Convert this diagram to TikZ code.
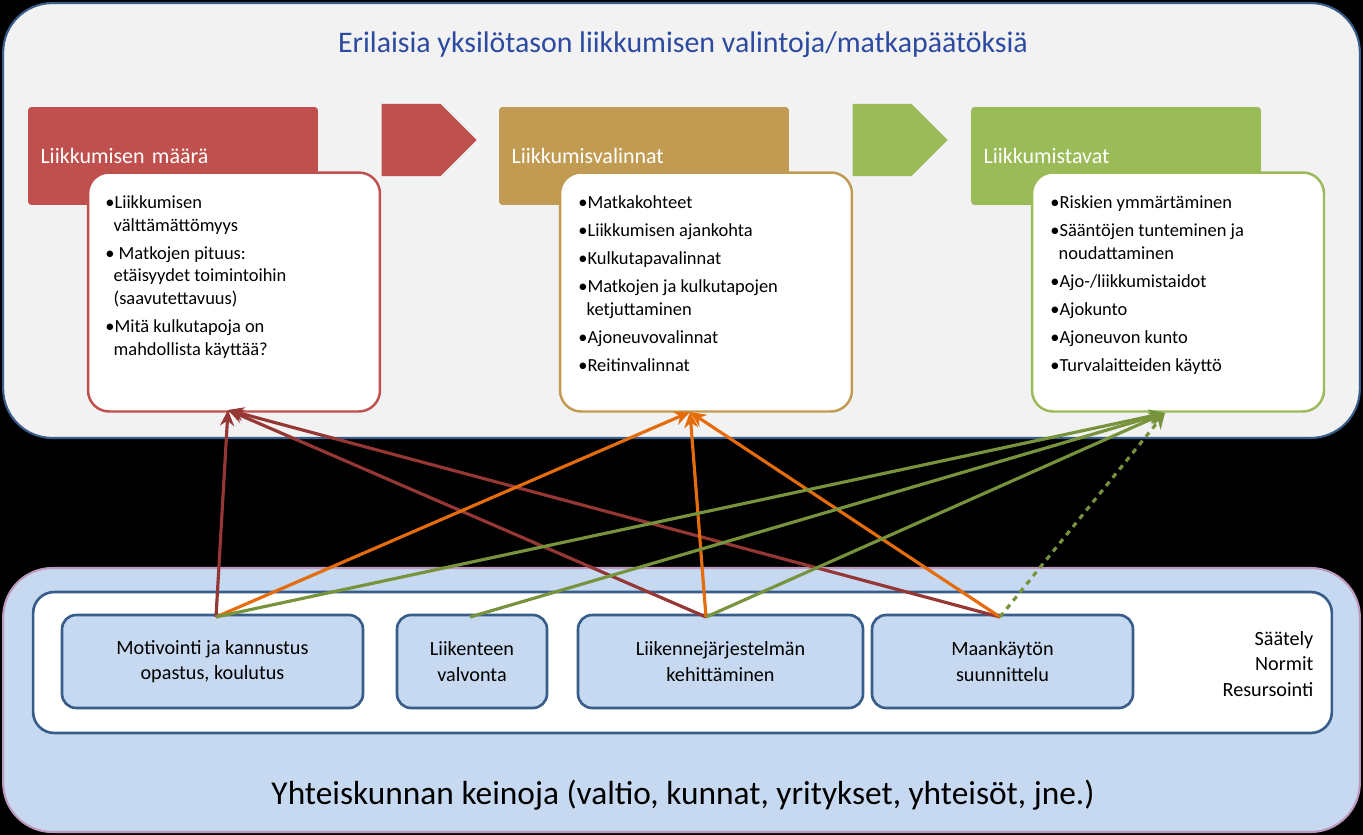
\documentclass[tikz,border=0pt]{standalone}
\usepackage{fontspec}
\setmainfont{Carlito}
\usetikzlibrary{shapes.arrows,arrows.meta}
\definecolor{panelblue}{HTML}{385D8A}
\definecolor{hdrred}{HTML}{C0504D}
\definecolor{hdrtan}{HTML}{C29B53}
\definecolor{hdrgreen}{HTML}{9BBB59}
\definecolor{lightblue}{HTML}{C6D9F1}
\definecolor{arrred}{HTML}{953735}
\definecolor{arrorange}{HTML}{E46C0A}
\definecolor{arrgreen}{HTML}{77933C}
\tikzset{
  hdr/.style={rounded corners=2pt, minimum width=5.8cm, minimum height=1.96cm, text=white,
    font=\fontsize{12.5}{15}\selectfont, text width=5.3cm, align=left},
  content/.style={draw, line width=1.4pt, rounded corners=12pt, fill=white,
    minimum width=5.84cm, minimum height=4.78cm},
  items/.style={font=\fontsize{10.5}{13}\selectfont, align=left, anchor=north west, inner sep=0pt},
  tool/.style={draw=panelblue, line width=1.5pt, fill=lightblue, rounded corners=8pt,
    minimum height=1.86cm, font=\fontsize{11.5}{14.5}\selectfont, align=center},
  link/.style={line width=1.8pt, -{Stealth[length=9pt,width=8pt]}}
}
\begin{document}
\begin{tikzpicture}[x=0.02cm,y=-0.02cm]
\fill[black] (0,0) rectangle (1363,835);
% upper panel
\node[draw=panelblue, line width=1.2pt, fill=black!5, rounded corners=28pt,
  minimum width=27.14cm, minimum height=8.7cm] (top) at (681.5,220.5) {};
\node[text=panelblue!80!blue, font=\fontsize{17}{20}\selectfont] (title) at (683,45)
  {Erilaisia yksilötason liikkumisen valintoja/matkapäätöksiä};
\node[hdr, fill=hdrred] (h1) at (173,156) {Liikkumisen määrä\\[1cm]};
\node[hdr, fill=hdrtan] (h2) at (644,156) {Liikkumisvalinnat\\[1cm]};
\node[hdr, fill=hdrgreen] (h3) at (1116,156) {Liikkumistavat\\[1cm]};
\node[single arrow, fill=hdrred, minimum height=1.9cm, minimum width=1.45cm,
  single arrow head extend=0pt, inner sep=0pt] (a1) at (411,140) {};
\node[single arrow, fill=hdrgreen, minimum height=1.9cm, minimum width=1.45cm,
  single arrow head extend=0pt, inner sep=0pt] (a2) at (882,140) {};
\node[content, draw=hdrred] (c1) at (234,292) {};
\node[content, draw=hdrtan] (c2) at (706,292) {};
\node[content, draw=hdrgreen] (c3) at (1178,292) {};
\node[items] (t1) at (105,195) {•Liikkumisen\\ \ \ välttämättömyys\\[3pt]
  • Matkojen pituus:\\ \ \ etäisyydet toimintoihin\\ \ \ (saavutettavuus)\\[3pt]
  •Mitä kulkutapoja on\\ \ \ mahdollista käyttää?};
\node[items] (t2) at (578,195) {•Matkakohteet\\[3pt] •Liikkumisen ajankohta\\[3pt]
  •Kulkutapavalinnat\\[3pt] •Matkojen ja kulkutapojen\\ \ \ ketjuttaminen\\[3pt]
  •Ajoneuvovalinnat\\[3pt] •Reitinvalinnat};
\node[items] (t3) at (1050,195) {•Riskien ymmärtäminen\\[3pt] •Sääntöjen tunteminen ja\\ \ \ noudattaminen\\[3pt]
  •Ajo-/liikkumistaidot\\[3pt] •Ajokunto\\[3pt] •Ajoneuvon kunto\\[3pt] •Turvalaitteiden käyttö};
% lower panel
\node[draw=black!30!violet!40, line width=1.2pt, fill=lightblue, rounded corners=28pt,
  minimum width=27.14cm, minimum height=5.28cm] (bottom) at (681.5,700) {};
\node[draw=panelblue, line width=1.5pt, fill=white, rounded corners=12pt,
  minimum width=25.98cm, minimum height=2.82cm] (inner) at (682.5,662.5) {};
\node[tool, minimum width=6.02cm] (m1) at (212.5,661.5) {Motivointi ja kannustus\\opastus, koulutus};
\node[tool, minimum width=3cm] (m2) at (472,661.5) {Liikenteen\\valvonta};
\node[tool, minimum width=5.7cm] (m3) at (720.5,661.5) {Liikennejärjestelmän\\kehittäminen};
\node[tool, minimum width=5.22cm] (m4) at (1002.5,661.5) {Maankäytön\\suunnittelu};
\node[font=\fontsize{11.5}{14.5}\selectfont, align=right] (norms) at (1268,664)
  {Säätely\\Normit\\Resursointi};
\node[font=\fontsize{19}{23}\selectfont] (means) at (683,795)
  {Yhteiskunnan keinoja (valtio, kunnat, yritykset, yhteisöt, jne.)};
% connectors
\coordinate (s1) at (216,617); \coordinate (s2) at (470,617);
\coordinate (s3) at (706,617); \coordinate (s4) at (1000,617);
\coordinate (e1) at (228,410); \coordinate (e2) at (690,412); \coordinate (e3) at (1165,413);
\draw[link, arrred] (s1) -- (e1);
\draw[link, arrred] (s3) -- (e1);
\draw[link, arrred] (s4) -- (e1);
\draw[link, arrorange] (s1) -- (e2);
\draw[link, arrorange] (s3) -- (e2);
\draw[link, arrorange] (s4) -- (e2);
\draw[link, arrgreen] (s1) -- (e3);
\draw[link, arrgreen] (s2) -- (e3);
\draw[link, arrgreen] (s3) -- (e3);
\draw[link, arrgreen, dashed] (s4) -- (e3);
\end{tikzpicture}
\end{document}
